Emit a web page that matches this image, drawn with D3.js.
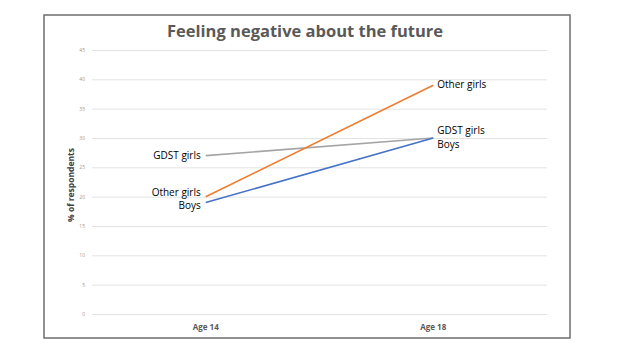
<!DOCTYPE html>
<html>
<head>
<meta charset="utf-8">
<script src="https://cdn.jsdelivr.net/npm/d3@7"></script>
<style>
  body { margin: 0; background: #fff; }
  svg { display: block; font-family: "Open Sans", "Liberation Sans", sans-serif; }
</style>
</head>
<body>
<svg id="chart"></svg>
<script>
"use strict";

// data
const ages = ["Age 14", "Age 18"];
const gdstGirls = [27, 30];
const otherGirls = [20, 39];
const boys = [19, 30];
const yTicks = [0, 5, 10, 15, 20, 25, 30, 35, 40, 45];

const series = [
  { name: "GDST girls", values: gdstGirls, color: "#a5a5a5" },
  { name: "Other girls", values: otherGirls, color: "#ed7d31" },
  { name: "Boys", values: boys, color: "#4472c4" }
];

const W = 625, H = 352;
const frame = { left: 44, top: 15, right: 570, bottom: 338 };
const plot = { left: 92, right: 547, top: 50, bottom: 314 };

const svg = d3.select("#chart").attr("width", W).attr("height", H);

// outer chart border
svg.append("rect")
  .attr("x", frame.left).attr("y", frame.top)
  .attr("width", frame.right - frame.left)
  .attr("height", frame.bottom - frame.top)
  .attr("fill", "#fff")
  .attr("stroke", "#6e6e6e")
  .attr("stroke-width", 1.5);

const x = d3.scalePoint().domain(ages).range([plot.left, plot.right]).padding(0.5);
const y = d3.scaleLinear().domain([0, 45]).range([plot.bottom, plot.top]);

// gridlines + tick labels
const yAxis = svg.append("g")
  .attr("transform", `translate(${plot.left},0)`)
  .call(d3.axisLeft(y).tickValues(yTicks).tickSize(-(plot.right - plot.left)).tickPadding(7));
yAxis.select(".domain").remove();
yAxis.selectAll(".tick line").attr("stroke", "#e3e3e3").attr("stroke-width", 1);
yAxis.selectAll(".tick text")
  .attr("fill", "#9a9a9a")
  .style("font-size", "5px")
  .style("font-family", "Open Sans, sans-serif");

// x labels
svg.append("g").selectAll("text")
  .data(ages)
  .join("text")
  .attr("x", d => x(d))
  .attr("y", 330)
  .attr("text-anchor", "middle")
  .attr("fill", "#595959")
  .style("font-size", "8px")
  .style("font-weight", "bold")
  .text(d => d);

// y axis title
svg.append("text")
  .attr("transform", "rotate(-90)")
  .attr("x", -185)
  .attr("y", 74)
  .attr("text-anchor", "middle")
  .attr("fill", "#404040")
  .style("font-size", "8.5px")
  .style("font-weight", "bold")
  .text("% of respondents");

// title
svg.append("text")
  .attr("x", 305)
  .attr("y", 37)
  .attr("text-anchor", "middle")
  .attr("fill", "#595959")
  .style("font-size", "16.5px")
  .style("font-weight", "bold")
  .text("Feeling negative about the future");

// lines
const line = d3.line().x((d, i) => x(ages[i])).y(d => y(d));
svg.append("g").selectAll("path")
  .data(series)
  .join("path")
  .attr("d", d => line(d.values))
  .attr("fill", "none")
  .attr("stroke", d => d.color)
  .attr("stroke-width", 1.6);

// end labels
const leftNudge = { "GDST girls": 0, "Other girls": -4, "Boys": 3 };
const rightNudge = { "GDST girls": -8, "Other girls": -1, "Boys": 6 };

svg.append("g").selectAll("text")
  .data(series)
  .join("text")
  .attr("x", x(ages[0]) - 5)
  .attr("y", d => y(d.values[0]) + leftNudge[d.name])
  .attr("dy", "0.35em")
  .attr("text-anchor", "end")
  .attr("fill", "#000")
  .style("font-size", "10px")
  .text(d => d.name);

svg.append("g").selectAll("text")
  .data(series)
  .join("text")
  .attr("x", x(ages[1]) + 4)
  .attr("y", d => y(d.values[1]) + rightNudge[d.name])
  .attr("dy", "0.35em")
  .attr("text-anchor", "start")
  .attr("fill", "#000")
  .style("font-size", "10px")
  .text(d => d.name);
</script>
</body>
</html>
